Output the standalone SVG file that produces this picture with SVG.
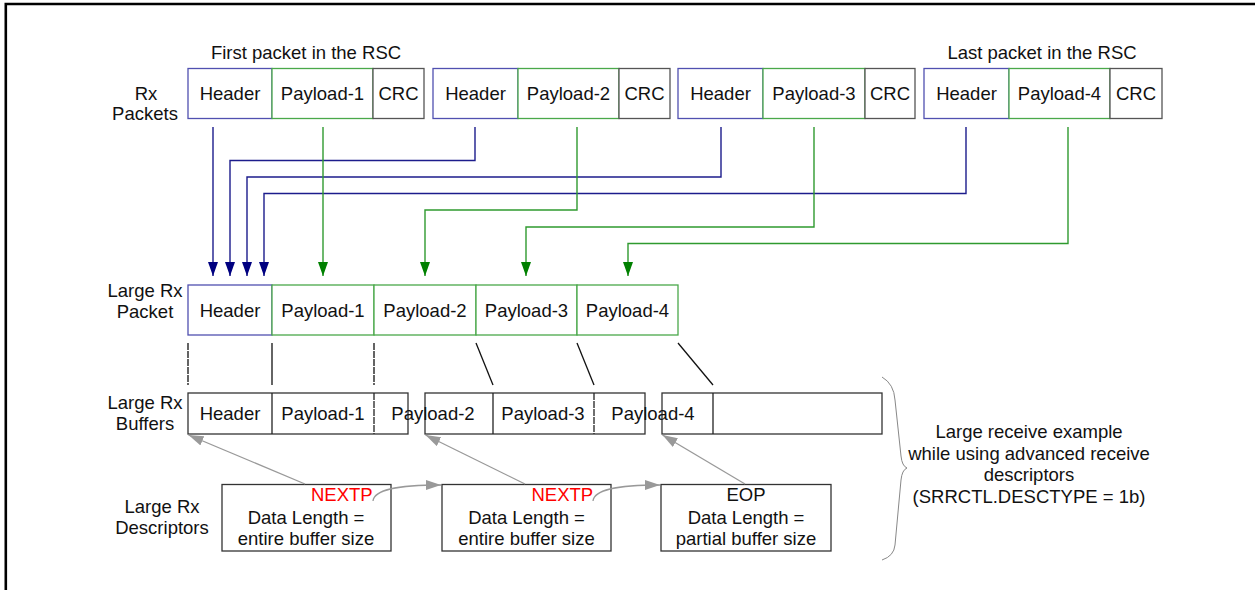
<svg xmlns="http://www.w3.org/2000/svg" width="1255" height="590" viewBox="0 0 1255 590">
<style>
text{font-family:"Liberation Sans",Arial,sans-serif;font-size:18.5px;fill:#111;}
.c{text-anchor:middle;}
.hd{fill:#fff;stroke:#5050b0;stroke-width:1.3;}
.pl{fill:#fff;stroke:#4aa84a;stroke-width:1.3;}
.crc{fill:#fff;stroke:#555;stroke-width:1.3;}
.buf{fill:none;stroke:#333;stroke-width:1.3;}
.dv{stroke:#222;stroke-width:1.3;}
.bl{fill:none;stroke:#1c1c8c;stroke-width:1.4;marker-end:url(#ab);}
.gl{fill:none;stroke:#2f9a2f;stroke-width:1.4;marker-end:url(#ag);}
.gy{fill:none;stroke:#999;stroke-width:1.3;marker-end:url(#ay);}
.ln{stroke:#111;stroke-width:1.3;}
.dt{stroke-dasharray:7,1;}
.red{fill:#ff0000;}
</style>
<defs>
<marker id="ab" markerUnits="userSpaceOnUse" markerWidth="16" markerHeight="12" refX="14" refY="5" orient="auto">
<path d="M0,0 L14,5 L0,10 Z" fill="#000080"/>
</marker>
<marker id="ag" markerUnits="userSpaceOnUse" markerWidth="16" markerHeight="12" refX="14" refY="5" orient="auto">
<path d="M0,0 L14,5 L0,10 Z" fill="#008000"/>
</marker>
<marker id="ay" markerUnits="userSpaceOnUse" markerWidth="16" markerHeight="12" refX="15" refY="5" orient="auto">
<path d="M0,0 L15,5 L0,10 Z" fill="#999"/>
</marker>
</defs>
<rect width="1255" height="590" fill="#fff"/>
<path d="M5.8,590 V4 H1255" fill="none" stroke="#000" stroke-width="2.6"/>

<g id="labels">
<text class="c" x="306" y="59">First packet in the RSC</text>
<text class="c" x="1042" y="59">Last packet in the RSC</text>
<text class="c" x="146" y="100">Rx</text>
<text class="c" x="145" y="120">Packets</text>
<text class="c" x="145" y="297">Large Rx</text>
<text class="c" x="145" y="318">Packet</text>
<text class="c" x="145" y="409">Large Rx</text>
<text class="c" x="145" y="430">Buffers</text>
<text class="c" x="162" y="513">Large Rx</text>
<text class="c" x="162" y="534">Descriptors</text>
</g>

<g id="rx-packet-1">
<rect class="hd" x="188" y="68.5" width="84" height="50"/>
<rect class="pl" x="272" y="68.5" width="101" height="50"/>
<rect class="crc" x="373" y="68.5" width="51" height="50"/>
<text class="c" x="230" y="100">Header</text>
<text class="c" x="322.5" y="100">Payload-1</text>
<text class="c" x="398.5" y="100">CRC</text>
</g>
<g id="rx-packet-2">
<rect class="hd" x="433" y="68.5" width="85" height="50"/>
<rect class="pl" x="518" y="68.5" width="101" height="50"/>
<rect class="crc" x="619" y="68.5" width="51" height="50"/>
<text class="c" x="475.5" y="100">Header</text>
<text class="c" x="568.5" y="100">Payload-2</text>
<text class="c" x="644.5" y="100">CRC</text>
</g>
<g id="rx-packet-3">
<rect class="hd" x="678" y="68.5" width="85" height="50"/>
<rect class="pl" x="763" y="68.5" width="102" height="50"/>
<rect class="crc" x="865" y="68.5" width="50" height="50"/>
<text class="c" x="720.5" y="100">Header</text>
<text class="c" x="814" y="100">Payload-3</text>
<text class="c" x="890" y="100">CRC</text>
</g>
<g id="rx-packet-4">
<rect class="hd" x="924" y="68.5" width="85" height="50"/>
<rect class="pl" x="1009" y="68.5" width="101" height="50"/>
<rect class="crc" x="1110" y="68.5" width="52" height="50"/>
<text class="c" x="966.5" y="100">Header</text>
<text class="c" x="1059.5" y="100">Payload-4</text>
<text class="c" x="1136" y="100">CRC</text>
</g>

<g id="large-rx-packet">
<rect class="hd" x="188" y="285" width="84" height="50"/>
<rect class="pl" x="272" y="285" width="102" height="50"/>
<rect class="pl" x="374" y="285" width="102" height="50"/>
<rect class="pl" x="476" y="285" width="101" height="50"/>
<rect class="pl" x="577" y="285" width="101" height="50"/>
<text class="c" x="230" y="316.5">Header</text>
<text class="c" x="323" y="316.5">Payload-1</text>
<text class="c" x="425" y="316.5">Payload-2</text>
<text class="c" x="526.5" y="316.5">Payload-3</text>
<text class="c" x="627.5" y="316.5">Payload-4</text>
</g>

<g id="buffer-1">
<rect class="buf" x="188" y="393" width="220" height="41"/>
<line class="dv" x1="272" y1="393" x2="272" y2="434"/>
<line class="dv dt" x1="374" y1="393" x2="374" y2="434"/>
<text class="c" x="230" y="420">Header</text>
<text class="c" x="323" y="420">Payload-1</text>
</g>
<g id="buffer-2">
<rect class="buf" x="425" y="393" width="220" height="41"/>
<line class="dv" x1="493" y1="393" x2="493" y2="434"/>
<line class="dv dt" x1="594" y1="393" x2="594" y2="434"/>
<text class="c" x="433" y="420">Payload-2</text>
<text class="c" x="543" y="420">Payload-3</text>
</g>
<g id="buffer-3">
<rect class="buf" x="662" y="393" width="220" height="41"/>
<line class="dv" x1="713" y1="393" x2="713" y2="434"/>
<text class="c" x="653" y="420">Payload-4</text>
</g>

<g id="descriptor-1">
<rect class="buf" x="222" y="484.5" width="169" height="66.5"/>
<text x="311" y="500.5" class="red">NEXTP</text>
<text class="c" x="306" y="524">Data Length =</text>
<text class="c" x="306" y="544.5">entire buffer size</text>
</g>
<g id="descriptor-2">
<rect class="buf" x="442" y="484.5" width="169" height="66.5"/>
<text x="531.5" y="500.5" class="red">NEXTP</text>
<text class="c" x="526.5" y="524">Data Length =</text>
<text class="c" x="526.5" y="544.5">entire buffer size</text>
</g>
<g id="descriptor-3">
<rect class="buf" x="661" y="484.5" width="170" height="66.5"/>
<text class="c" x="746" y="500.5">EOP</text>
<text class="c" x="746" y="524">Data Length =</text>
<text class="c" x="746" y="544.5">partial buffer size</text>
</g>

<g id="note">
<path d="M882,377 Q894,384 895,400 L901,456 Q902,466 907,468 Q902,470 901,480 L895,545 Q894,556 882,560" fill="none" stroke="#888" stroke-width="1"/>
<text class="c" x="1029" y="438">Large receive example</text>
<text class="c" x="1029" y="459.5">while using advanced receive</text>
<text class="c" x="1029" y="481">descriptors</text>
<text class="c" x="1029" y="502.5">(SRRCTL.DESCTYPE = 1b)</text>
</g>

<g id="connectors">
<path class="bl" d="M213,127 V276"/>
<path class="bl" d="M475,127 V160.5 H230 V276"/>
<path class="bl" d="M721,127 V177 H247 V276"/>
<path class="bl" d="M966,127 V193.5 H264 V276"/>
<path class="gl" d="M323,127 V276"/>
<path class="gl" d="M577,127 V210 H425 V276"/>
<path class="gl" d="M814,127 V227 H526 V276"/>
<path class="gl" d="M1068,127 V243.5 H628 V276"/>
<line class="ln dt" x1="188" y1="343" x2="188" y2="385"/>
<line class="ln" x1="272" y1="343" x2="272" y2="385"/>
<line class="ln dt" x1="374" y1="343" x2="374" y2="385"/>
<line class="ln" x1="476" y1="343" x2="493" y2="385"/>
<line class="ln" x1="577" y1="343" x2="594" y2="385"/>
<line class="ln" x1="678" y1="343" x2="713" y2="385"/>
<path class="gy" d="M305,484 L188.5,435"/>
<path class="gy" d="M525,484 L425.5,435"/>
<path class="gy" d="M745,484 L662.5,435"/>
<path class="gy" d="M373,501 C374,490 395,485 441,485"/>
<path class="gy" d="M593,501 C594,490 615,485 660,485"/>
</g>
</svg>
